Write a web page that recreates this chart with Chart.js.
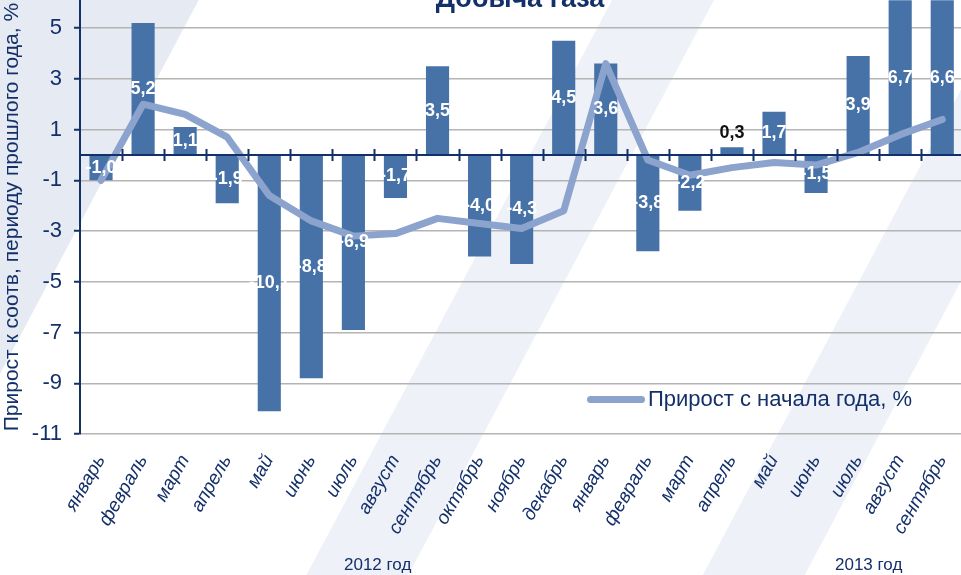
<!DOCTYPE html>
<html>
<head>
<meta charset="utf-8">
<script src="https://cdn.jsdelivr.net/npm/chart.js@4.4.1/dist/chart.umd.min.js"></script>
<style>
  html, body { margin: 0; padding: 0; background: #fff; }
  #wrap {
    position: relative; width: 961px; height: 575px; overflow: hidden;
    background:
      linear-gradient(118deg, #e6eaf2 0, #e6eaf2 175px, rgba(255,255,255,0) 176px),
      linear-gradient(118deg, rgba(255,255,255,0) 540px, #eef1f7 541px, #eef1f7 630px, rgba(255,255,255,0) 631px),
      linear-gradient(118deg, rgba(255,255,255,0) 890px, #eef1f7 891px, #eef1f7 980px, rgba(255,255,255,0) 981px),
      #fff;
  }
  canvas { position: absolute; left: 0; top: -25px; }
  .txt { position: absolute; font-family: "Liberation Sans", Arial, sans-serif; color: #13306a; white-space: nowrap; }
  #title { left: 0; width: 1040px; text-align: center; top: -17px; font-size: 27px; font-weight: bold; }
  #legend { left: 587px; top: 386px; font-size: 22px; display: flex; align-items: center; }
  #legend span.mark { display: inline-block; width: 58px; height: 7px; border-radius: 4px; background: #8ca3cd; margin-right: 3px; }
  .year { font-size: 17px; top: 555px; }
</style>
</head>
<body>
<div id="wrap">
  <canvas id="chart" width="971" height="600"></canvas>
  <div id="title" class="txt">Добыча газа</div>
  <div id="legend" class="txt"><span class="mark"></span>Прирост с начала года, %</div>
  <div class="txt year" style="left:344px">2012 год</div>
  <div class="txt year" style="left:835px">2013 год</div>
</div>
<script>
// Прирост к соотв. периоду прошлого года, %
const months = [
  "январь", "февраль", "март", "апрель", "май", "июнь", "июль", "август",
  "сентябрь", "октябрь", "ноябрь", "декабрь",
  "январь", "февраль", "март", "апрель", "май", "июнь", "июль", "август", "сентябрь"
];
const monthlyGrowth = [
  -1.0, 5.2, 1.1, -1.9, -10.1, -8.8, -6.9, -1.7, 3.5, -4.0, -4.3, 4.5,
  3.6, -3.8, -2.2, 0.3, 1.7, -1.5, 3.9, 6.7, 6.6
];
// Прирост с начала года, %
const ytdGrowth = [
  -1.0, 2.0, 1.6, 0.7, -1.6, -2.6, -3.2, -3.1, -2.5, -2.7, -2.9, -2.2,
  3.6, -0.2, -0.8, -0.5, -0.3, -0.4, 0.1, 0.8, 1.4
];
const yTicks = [-11, -9, -7, -5, -3, -1, 1, 3, 5];

const NAVY = "#13306a";
const BAR = "#4672a8";
const LINE = "#8ca3cd";
const FONT = "'Liberation Sans', Arial, sans-serif";
const CANVAS_SHIFT = 25; // верх холста спрятан за краем страницы

const fmt = (v) => v.toFixed(1).replace(".", ",");

/** Нулевая ось с засечками между месяцами */
const zeroAxisPlugin = {
  id: "zeroAxis",
  afterDatasetsDraw(chart) {
    const { ctx, chartArea, scales } = chart;
    const y0 = scales.y.getPixelForValue(0);
    const n = months.length;
    const step = (chartArea.right - chartArea.left) / n;
    ctx.save();
    ctx.strokeStyle = NAVY;
    ctx.lineWidth = 2;
    ctx.beginPath();
    ctx.moveTo(chartArea.left, y0);
    ctx.lineTo(chartArea.right, y0);
    for (let i = 1; i < n; i++) {
      const x = Math.round(chartArea.left + i * step) + 0.5;
      ctx.moveTo(x, y0 - 6);
      ctx.lineTo(x, y0 + 6);
    }
    ctx.stroke();
    ctx.restore();
  }
};

/** Подписи значений в середине видимой части столбика */
const barLabelsPlugin = {
  id: "barLabels",
  afterDatasetsDraw(chart) {
    const { ctx, chartArea } = chart;
    const meta = chart.getDatasetMeta(0);
    const visibleTop = Math.max(chartArea.top, CANVAS_SHIFT);
    ctx.save();
    ctx.font = "bold 18px " + FONT;
    ctx.textAlign = "center";
    ctx.textBaseline = "middle";
    meta.data.forEach((bar, i) => {
      const v = monthlyGrowth[i];
      const top = Math.max(Math.min(bar.y, bar.base), visibleTop);
      const bottom = Math.min(Math.max(bar.y, bar.base), chartArea.bottom);
      if (Math.abs(v) < 0.5) {
        ctx.fillStyle = "#111";
        ctx.fillText(fmt(v), bar.x, top - 14);
        return;
      }
      ctx.fillStyle = "#fff";
      ctx.fillText(fmt(v), bar.x, (top + bottom) / 2);
    });
    ctx.restore();
  }
};

new Chart(document.getElementById("chart"), {
  data: {
    labels: months,
    datasets: [
      {
        type: "bar",
        label: "Прирост к соотв. периоду прошлого года, %",
        data: monthlyGrowth,
        backgroundColor: BAR,
        barPercentage: 0.55,
        categoryPercentage: 1,
        order: 2
      },
      {
        type: "line",
        label: "Прирост с начала года, %",
        data: ytdGrowth,
        borderColor: LINE,
        borderWidth: 7,
        borderCapStyle: "round",
        borderJoinStyle: "round",
        pointRadius: 0,
        tension: 0,
        order: 1
      }
    ]
  },
  options: {
    responsive: false,
    animation: false,
    layout: { padding: 0 },
    plugins: {
      legend: { display: false },
      tooltip: { enabled: false }
    },
    scales: {
      x: {
        grid: { display: false },
        border: { display: false },
        ticks: {
          color: NAVY,
          font: { family: FONT, size: 19, style: "italic" },
          maxRotation: 60,
          minRotation: 60,
          autoSkip: false,
          padding: 9
        },
        afterFit(scale) { scale.height = 141; }
      },
      y: {
        min: -11,
        max: 6.1,
        afterBuildTicks(scale) {
          scale.ticks = yTicks.map((v) => ({ value: v }));
        },
        grid: {
          color: "#b4b4b4",
          lineWidth: 1.5,
          borderDash: [2, 3],
          tickColor: NAVY,
          tickBorderDash: [],
          tickLength: 6,
          tickWidth: 2
        },
        border: { display: true, color: NAVY, width: 2 },
        ticks: {
          color: NAVY,
          font: { family: FONT, size: 22 },
          padding: 12,
          callback: (v) => String(v)
        },
        title: {
          display: true,
          text: "Прирост к соотв, периоду прошлого года, %",
          color: NAVY,
          font: { family: FONT, size: 21 },
          padding: 0
        },
        afterFit(scale) { scale.width = 80; }
      }
    }
  },
  plugins: [zeroAxisPlugin, barLabelsPlugin]
});
</script>
</body>
</html>
